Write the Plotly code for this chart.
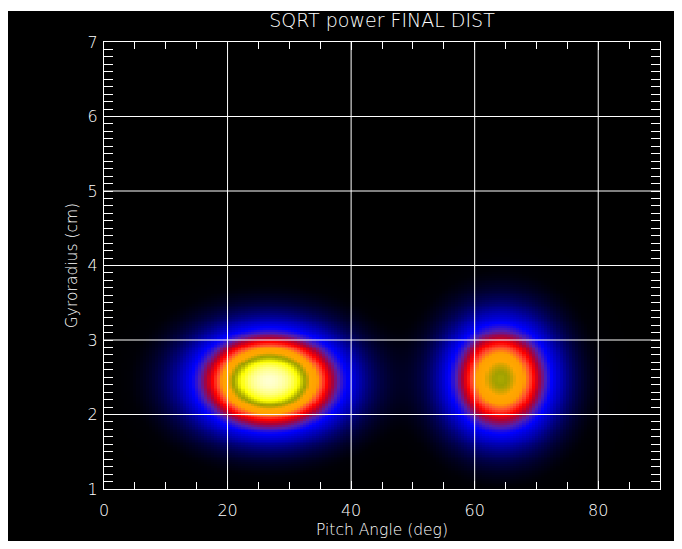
import numpy as np
import plotly.graph_objects as go

# ---- data ----
title = "SQRT power FINAL DIST"
x_title = "Pitch Angle (deg)"
y_title = "Gyroradius (cm)"
x_ticks = [0, 20, 40, 60, 80]
y_ticks = [1, 2, 3, 4, 5, 6, 7]
x_range = [0, 90]
y_range = [1, 7]

# two peaks in the final distribution (centre, width, height)
peak_pitch = [26.8, 64.2]        # deg
peak_gyro = [2.45, 2.48]         # cm
peak_width_pitch = [8.1, 6.0]    # deg
peak_width_gyro = [0.46, 0.54]   # cm
peak_height = [1.0, 0.78]

pitch = np.arange(0, 90.001, 0.5)
gyro = np.arange(1, 7.0001, 0.025)
P, G = np.meshgrid(pitch, gyro)
z = np.zeros_like(P)
for px, gy, sx, sy, a in zip(peak_pitch, peak_gyro, peak_width_pitch, peak_width_gyro, peak_height):
    z += a * np.exp(-((P - px) ** 2 / (2 * sx ** 2) + (G - gy) ** 2 / (2 * sy ** 2)))

colorscale = [
    [0.00, "#000000"],
    [0.02, "#000006"],
    [0.10, "#000050"],
    [0.20, "#0000b0"],
    [0.30, "#0000ff"],
    [0.38, "#5020b0"],
    [0.46, "#b00030"],
    [0.52, "#ff0000"],
    [0.58, "#ff5030"],
    [0.64, "#ffa000"],
    [0.71, "#ffa800"],
    [0.77, "#a0a000"],
    [0.80, "#b8b800"],
    [0.85, "#ffff00"],
    [0.93, "#ffff80"],
    [1.00, "#ffffd0"],
]

fig = go.Figure()
fig.add_trace(go.Heatmap(
    x=pitch, y=gyro, z=z, colorscale=colorscale, zmin=0, zmax=1,
    showscale=False, hoverinfo="skip",
))

L, R, T, B = 104, 22, 42, 60
W, H = 682, 549
pw, ph = W - L - R, H - T - B

# black background panel with thin white border around figure
fig.add_shape(type="rect", xref="paper", yref="paper",
              x0=(8 - L) / pw, x1=(674 - L) / pw,
              y0=((H - B) - 541) / ph, y1=((H - B) - 11) / ph,
              fillcolor="black", line_width=0, layer="below")

for v in x_ticks[1:]:
    fig.add_vline(x=v, line_color="white", line_width=1)
for v in y_ticks[1:-1]:
    fig.add_hline(y=v, line_color="white", line_width=1)

font = "DejaVu Sans"
fig.update_layout(
    width=W, height=H,
    margin=dict(l=L, r=R, t=T, b=B, autoexpand=False),
    paper_bgcolor="white", plot_bgcolor="black",
    title=dict(text=title, x=(L + pw / 2) / W, xanchor="center",
               y=1 - 20 / H, yanchor="middle",
               font=dict(family=font, size=19, color="white", weight=300)),
    font=dict(family=font, color="white", size=14, weight=300),
)
fig.update_xaxes(
    range=x_range, tickvals=x_ticks, showgrid=False, zeroline=False,
    showline=True, linecolor="white", linewidth=1, mirror="allticks",
    ticks="inside", ticklen=8, tickcolor="white", automargin=False,
    minor=dict(ticks="inside", dtick=5, ticklen=7, tickcolor="white", showgrid=False),
    tickfont=dict(size=16, color="white", weight=300), layer="above traces",
    ticklabelstandoff=7,
    title=dict(text=x_title, font=dict(size=15.5, color="white", weight=300), standoff=4),
)
fig.update_yaxes(
    range=y_range, tickvals=y_ticks, showgrid=False, zeroline=False,
    showline=True, linecolor="white", linewidth=1, mirror="allticks",
    ticks="inside", ticklen=9, tickcolor="white", automargin=False,
    minor=dict(ticks="inside", dtick=0.1, ticklen=9, tickcolor="white", showgrid=False),
    tickfont=dict(size=16, color="white", weight=300), layer="above traces",
    ticklabelstandoff=2,
    title=dict(text=y_title, font=dict(size=15.5, color="white", weight=300), standoff=6),
)

fig.write_html("out.html")
